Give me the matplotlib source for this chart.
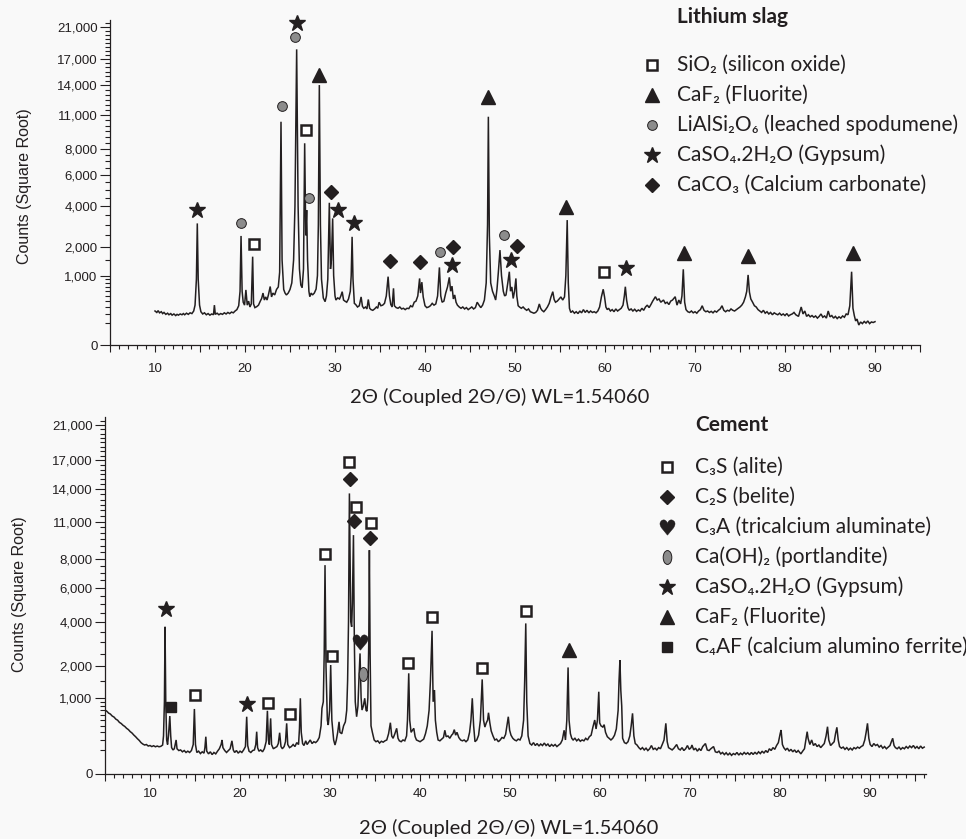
import numpy as np
import matplotlib
matplotlib.use("Agg")
import matplotlib.pyplot as plt
from matplotlib.lines import Line2D
from matplotlib.path import Path
from matplotlib.ticker import FixedLocator, MultipleLocator, FuncFormatter
from matplotlib.transforms import Affine2D

W, H = 966, 839
INK = '#231f20'
BG = '#f9f9f9'
TXT_FONT = ['Lato', 'DejaVu Sans']
AX_FONT = ['Liberation Sans', 'DejaVu Sans']

# ----------- data (2theta, counts) -----------
slag_trace = [
    (10.0, 240), (10.2, 220), (10.35, 245), (10.5, 215), (10.7, 230), (10.85, 205), (11.0, 220),
    (11.2, 195), (11.4, 210), (11.55, 190), (11.75, 205), (11.9, 185), (12.1, 200), (12.3, 180),
    (12.45, 195), (12.6, 185), (12.8, 200), (13.0, 190), (13.15, 205), (13.3, 190), (13.5, 210),
    (13.7, 195), (13.9, 215), (14.1, 205), (14.3, 240), (14.45, 330), (14.6, 900), (14.7, 3070),
    (14.8, 900), (14.95, 330), (15.1, 230), (15.3, 200), (15.5, 215), (15.7, 190), (15.9, 205),
    (16.1, 185), (16.3, 200), (16.5, 190), (16.6, 330), (16.7, 195), (16.9, 210), (17.1, 190),
    (17.3, 205), (17.5, 195), (17.7, 215), (17.9, 200), (18.1, 220), (18.3, 205), (18.5, 225),
    (18.7, 215), (18.9, 240), (19.1, 260), (19.3, 320), (19.45, 600), (19.56, 2470), (19.68, 600),
    (19.8, 380), (19.95, 330), (20.1, 630), (20.25, 330), (20.4, 400), (20.55, 300), (20.7, 350),
    (20.85, 1620), (20.95, 350), (21.1, 290), (21.3, 305), (21.5, 330), (21.7, 400), (21.85, 450),
    (22.0, 560), (22.15, 420), (22.3, 480), (22.45, 420), (22.6, 520), (22.8, 710), (22.95, 480),
    (23.1, 560), (23.3, 520), (23.5, 640), (23.7, 700), (23.85, 1100), (24.0, 10350), (24.12, 1500),
    (24.3, 640), (24.45, 560), (24.6, 520), (24.8, 560), (25.0, 640), (25.2, 800), (25.4, 1500),
    (25.55, 4000), (25.74, 18150), (25.9, 4000), (26.05, 1200), (26.2, 750), (26.35, 680),
    (26.5, 1200), (26.63, 8450), (26.75, 2500), (26.85, 3780), (26.95, 1500), (27.1, 600),
    (27.2, 484), (27.35, 560), (27.5, 520), (27.7, 560), (27.9, 650), (28.05, 1000), (28.15, 3000),
    (28.26, 14030), (28.38, 3000), (28.5, 900), (28.7, 460), (28.9, 390), (29.05, 500), (29.2, 900),
    (29.37, 4200), (29.5, 1200), (29.6, 1500), (29.74, 3330), (29.85, 1000), (30.0, 500),
    (30.1, 420), (30.3, 460), (30.5, 440), (30.65, 500), (30.8, 590), (30.95, 420), (31.1, 400),
    (31.3, 380), (31.5, 440), (31.7, 600), (31.8, 1000), (31.9, 2430), (32.0, 900), (32.15, 360),
    (32.3, 340), (32.5, 300), (32.7, 320), (32.9, 480), (33.05, 310), (33.2, 280), (33.4, 300),
    (33.55, 270), (33.7, 430), (33.85, 280), (34.0, 260), (34.2, 250), (34.4, 270), (34.6, 300),
    (34.75, 280), (34.9, 380), (35.1, 320), (35.3, 330), (35.5, 360), (35.7, 500), (35.9, 970),
    (36.05, 500), (36.2, 340), (36.35, 300), (36.5, 667), (36.6, 320), (36.8, 290), (37.0, 280),
    (37.2, 300), (37.4, 270), (37.6, 280), (37.8, 260), (38.0, 280), (38.2, 275), (38.4, 320),
    (38.6, 300), (38.8, 380), (39.0, 400), (39.2, 500), (39.4, 920), (39.5, 560), (39.65, 820),
    (39.8, 480), (40.0, 320), (40.2, 290), (40.4, 300), (40.6, 320), (40.8, 360), (41.0, 330),
    (41.2, 350), (41.4, 500), (41.6, 1250), (41.75, 500), (41.9, 380), (42.1, 400), (42.3, 560),
    (42.5, 700), (42.7, 950), (42.85, 600), (43.0, 720), (43.15, 440), (43.3, 520), (43.45, 380),
    (43.6, 330), (43.8, 300), (44.0, 280), (44.2, 300), (44.4, 270), (44.6, 290), (44.8, 260),
    (45.0, 280), (45.2, 300), (45.4, 270), (45.6, 290), (45.8, 380), (46.0, 330), (46.2, 290),
    (46.4, 330), (46.6, 420), (46.8, 800), (46.95, 3000), (47.04, 10820), (47.15, 2500),
    (47.3, 800), (47.5, 600), (47.7, 500), (47.85, 420), (48.0, 650), (48.15, 1100), (48.33, 1870),
    (48.5, 1000), (48.7, 600), (48.85, 500), (49.0, 520), (49.2, 800), (49.37, 1115), (49.5, 600),
    (49.65, 700), (49.8, 450), (49.95, 600), (50.1, 920), (50.2, 500), (50.35, 320), (50.5, 300),
    (50.7, 280), (50.9, 300), (51.1, 270), (51.3, 250), (51.5, 270), (51.7, 230), (51.9, 220),
    (52.1, 210), (52.3, 220), (52.5, 250), (52.7, 350), (52.85, 280), (53.0, 250), (53.2, 230),
    (53.4, 260), (53.6, 300), (53.8, 360), (54.0, 480), (54.2, 590), (54.35, 430), (54.5, 380),
    (54.7, 400), (54.9, 440), (55.1, 480), (55.3, 420), (55.5, 480), (55.65, 1000), (55.8, 3240),
    (55.92, 800), (56.05, 280), (56.2, 220), (56.4, 240), (56.6, 210), (56.8, 230), (57.0, 205),
    (57.2, 240), (57.4, 215), (57.6, 260), (57.8, 220), (58.0, 250), (58.2, 215), (58.4, 240),
    (58.6, 220), (58.8, 230), (59.0, 215), (59.2, 240), (59.4, 300), (59.6, 480), (59.8, 645),
    (59.95, 480), (60.1, 300), (60.25, 260), (60.4, 280), (60.6, 240), (60.8, 260), (61.0, 230),
    (61.2, 270), (61.4, 240), (61.6, 260), (61.8, 280), (62.0, 330), (62.15, 500), (62.26, 705),
    (62.4, 420), (62.55, 290), (62.7, 250), (62.9, 270), (63.1, 240), (63.3, 265), (63.5, 235),
    (63.7, 255), (63.9, 240), (64.1, 280), (64.3, 250), (64.5, 300), (64.7, 330), (64.9, 290),
    (65.1, 340), (65.3, 400), (65.6, 484), (65.8, 420), (66.0, 440), (66.2, 380), (66.5, 420),
    (66.7, 360), (66.9, 380), (67.1, 340), (67.3, 400), (67.5, 420), (67.8, 484), (68.0, 330),
    (68.2, 420), (68.4, 350), (68.55, 500), (68.7, 1190), (68.85, 380), (69.0, 260), (69.2, 230),
    (69.4, 220), (69.6, 240), (69.8, 215), (70.0, 230), (70.2, 210), (70.4, 240), (70.6, 260),
    (70.8, 320), (71.0, 250), (71.2, 230), (71.4, 240), (71.6, 220), (71.8, 235), (72.0, 215),
    (72.2, 240), (72.4, 225), (72.6, 250), (72.8, 270), (73.0, 320), (73.2, 250), (73.4, 230),
    (73.6, 250), (73.8, 240), (74.0, 270), (74.2, 250), (74.4, 240), (74.6, 260), (74.8, 280),
    (75.0, 300), (75.2, 330), (75.4, 380), (75.6, 480), (75.75, 600), (75.9, 1020), (76.05, 580),
    (76.2, 440), (76.4, 380), (76.6, 320), (76.8, 300), (77.0, 260), (77.2, 240), (77.4, 220),
    (77.6, 250), (77.8, 210), (78.0, 230), (78.2, 200), (78.4, 220), (78.6, 190), (78.8, 215),
    (79.0, 200), (79.2, 190), (79.4, 210), (79.6, 185), (79.8, 200), (80.0, 180), (80.2, 205),
    (80.4, 175), (80.6, 190), (80.8, 200), (81.0, 220), (81.2, 190), (81.5, 170), (81.8, 300),
    (82.0, 200), (82.2, 240), (82.4, 170), (82.6, 190), (82.8, 165), (83.0, 180), (83.2, 160),
    (83.4, 175), (83.6, 150), (83.8, 170), (84.0, 200), (84.2, 160), (84.4, 175), (84.6, 150),
    (84.8, 240), (85.0, 165), (85.2, 180), (85.4, 150), (85.6, 170), (85.8, 145), (86.0, 165),
    (86.2, 150), (86.4, 175), (86.6, 160), (86.8, 200), (87.0, 190), (87.2, 320), (87.4, 1115),
    (87.55, 280), (87.7, 180), (87.85, 120), (88.0, 140), (88.2, 83), (88.4, 110), (88.6, 95),
    (88.8, 115), (89.0, 100), (89.2, 120), (89.4, 95), (89.6, 110), (89.8, 105), (90.0, 113),
]

cement_trace = [
    (5.0, 706), (5.2, 680), (5.4, 640), (5.6, 620), (5.8, 580), (6.0, 560), (6.2, 520), (6.4, 500),
    (6.6, 460), (6.8, 440), (7.0, 410), (7.2, 390), (7.4, 360), (7.6, 340), (7.8, 310), (8.0, 290),
    (8.2, 262), (8.4, 240), (8.6, 215), (8.8, 195), (9.0, 170), (9.2, 155), (9.4, 145), (9.6, 150),
    (9.8, 135), (10.0, 140), (10.2, 130), (10.4, 138), (10.6, 128), (10.8, 135), (11.0, 128),
    (11.2, 132), (11.4, 145), (11.5, 250), (11.6, 900), (11.67, 3740), (11.75, 900), (11.85, 200),
    (11.95, 150), (12.05, 250), (12.2, 580), (12.3, 250), (12.4, 120), (12.55, 100), (12.7, 110),
    (12.9, 200), (13.0, 110), (13.2, 95), (13.4, 100), (13.6, 85), (13.8, 95), (14.0, 80),
    (14.2, 90), (14.4, 80), (14.6, 95), (14.8, 150), (14.93, 730), (15.05, 150), (15.2, 80),
    (15.4, 90), (15.6, 72), (15.8, 85), (16.0, 75), (16.1, 120), (16.2, 240), (16.3, 90), (16.5, 70),
    (16.7, 85), (16.9, 65), (17.1, 80), (17.3, 70), (17.5, 90), (17.7, 110), (17.9, 150), (18.0, 200),
    (18.1, 120), (18.3, 95), (18.5, 80), (18.7, 95), (18.9, 110), (19.1, 190), (19.25, 100),
    (19.4, 80), (19.6, 95), (19.8, 75), (20.0, 90), (20.2, 80), (20.4, 100), (20.6, 130),
    (20.74, 566), (20.85, 140), (21.0, 90), (21.2, 80), (21.4, 95), (21.6, 100), (21.75, 150),
    (21.85, 309), (21.95, 120), (22.1, 90), (22.3, 100), (22.5, 85), (22.7, 110), (22.9, 180),
    (23.04, 690), (23.15, 200), (23.25, 150), (23.4, 534), (23.5, 150), (23.7, 110), (23.9, 120),
    (24.1, 130), (24.25, 160), (24.4, 294), (24.55, 130), (24.7, 110), (24.9, 130), (25.05, 180),
    (25.18, 443), (25.3, 150), (25.5, 120), (25.7, 130), (25.9, 150), (26.1, 130), (26.3, 170),
    (26.5, 150), (26.6, 350), (26.7, 990), (26.8, 300), (26.95, 160), (27.1, 140), (27.3, 190),
    (27.45, 150), (27.6, 170), (27.8, 200), (28.0, 160), (28.2, 180), (28.4, 170), (28.6, 190),
    (28.8, 230), (29.0, 400), (29.1, 745), (29.25, 900), (29.35, 2500), (29.44, 7530), (29.55, 2000),
    (29.7, 500), (29.8, 414), (29.95, 700), (30.07, 2050), (30.2, 500), (30.4, 200), (30.55, 145),
    (30.7, 200), (30.85, 300), (31.0, 470), (31.1, 300), (31.3, 280), (31.5, 400), (31.7, 470),
    (31.85, 700), (31.95, 1500), (32.05, 4000), (32.15, 13590), (32.3, 4000), (32.4, 3740),
    (32.48, 5000), (32.6, 9850), (32.7, 3000), (32.8, 900), (32.95, 566), (33.1, 800), (33.2, 1500),
    (33.33, 2510), (33.45, 1000), (33.55, 706), (33.7, 800), (33.85, 990), (34.0, 700), (34.1, 680),
    (34.2, 1000), (34.3, 3000), (34.37, 8650), (34.45, 2500), (34.55, 400), (34.7, 300), (34.9, 200),
    (35.1, 180), (35.3, 190), (35.5, 165), (35.7, 185), (35.9, 175), (36.1, 190), (36.3, 200),
    (36.5, 280), (36.7, 454), (36.85, 250), (37.0, 220), (37.2, 280), (37.4, 360), (37.55, 220),
    (37.7, 190), (37.9, 180), (38.1, 200), (38.3, 190), (38.5, 250), (38.6, 500), (38.74, 1750),
    (38.85, 500), (39.0, 300), (39.15, 330), (39.3, 360), (39.45, 240), (39.6, 200), (39.8, 190),
    (40.0, 180), (40.2, 195), (40.4, 210), (40.6, 280), (40.8, 400), (41.0, 700), (41.15, 1500),
    (41.33, 3540), (41.45, 900), (41.6, 1217), (41.7, 500), (41.85, 300), (42.0, 200), (42.2, 190),
    (42.4, 210), (42.6, 230), (42.75, 330), (42.9, 240), (43.1, 250), (43.3, 220), (43.5, 260),
    (43.65, 280), (43.8, 340), (43.95, 260), (44.1, 300), (44.3, 230), (44.5, 200), (44.7, 190),
    (44.9, 200), (45.1, 180), (45.3, 200), (45.5, 300), (45.65, 500), (45.8, 990), (45.95, 400),
    (46.1, 180), (46.3, 200), (46.5, 260), (46.7, 500), (46.9, 1545), (47.05, 500), (47.2, 380),
    (47.35, 450), (47.5, 500), (47.6, 648), (47.75, 450), (47.9, 320), (48.1, 250), (48.3, 200),
    (48.5, 210), (48.7, 180), (48.9, 200), (49.1, 230), (49.3, 220), (49.5, 270), (49.65, 400),
    (49.8, 566), (49.95, 330), (50.1, 260), (50.3, 220), (50.5, 200), (50.7, 190), (50.9, 210),
    (51.1, 200), (51.3, 250), (51.5, 500), (51.62, 1500), (51.74, 3915), (51.85, 900), (52.0, 250),
    (52.2, 160), (52.4, 145), (52.6, 170), (52.8, 140), (53.0, 160), (53.2, 135), (53.4, 155),
    (53.6, 140), (53.8, 165), (54.0, 140), (54.2, 155), (54.4, 130), (54.6, 150), (54.8, 135),
    (55.0, 150), (55.2, 130), (55.4, 145), (55.6, 160), (55.8, 200), (56.0, 330), (56.15, 200),
    (56.3, 500), (56.44, 1960), (56.55, 500), (56.7, 280), (56.85, 220), (57.0, 200), (57.2, 220),
    (57.4, 190), (57.6, 210), (57.8, 185), (58.0, 200), (58.2, 190), (58.4, 220), (58.6, 200),
    (58.8, 240), (59.0, 260), (59.2, 380), (59.4, 503), (59.55, 350), (59.7, 500), (59.85, 1168),
    (59.95, 450), (60.1, 400), (60.3, 380), (60.45, 420), (60.6, 300), (60.8, 240), (61.0, 220),
    (61.2, 200), (61.4, 220), (61.6, 260), (61.8, 350), (62.0, 700), (62.1, 1500), (62.2, 2240),
    (62.3, 1200), (62.4, 800), (62.5, 220), (62.7, 170), (62.9, 160), (63.1, 180), (63.3, 250),
    (63.45, 400), (63.6, 635), (63.75, 250), (63.9, 160), (64.1, 145), (64.3, 120), (64.5, 105),
    (64.7, 120), (64.9, 100), (65.1, 115), (65.3, 95), (65.5, 110), (65.7, 140), (65.9, 105),
    (66.1, 115), (66.3, 100), (66.5, 120), (66.7, 110), (66.9, 150), (67.1, 200), (67.3, 443),
    (67.45, 180), (67.6, 120), (67.8, 110), (68.0, 100), (68.2, 115), (68.5, 150), (68.7, 110),
    (68.9, 100), (69.1, 120), (69.3, 95), (69.5, 110), (69.7, 140), (69.9, 105), (70.1, 120),
    (70.2, 145), (70.4, 100), (70.6, 115), (70.8, 90), (71.0, 110), (71.2, 95), (71.4, 130),
    (71.7, 160), (71.9, 100), (72.1, 95), (72.3, 110), (72.6, 130), (72.8, 85), (73.0, 80),
    (73.2, 90), (73.4, 70), (73.6, 80), (73.8, 65), (74.0, 78), (74.2, 62), (74.4, 75), (74.6, 60),
    (74.8, 72), (75.0, 65), (75.2, 80), (75.4, 62), (75.6, 75), (75.8, 65), (76.0, 80), (76.2, 68),
    (76.4, 78), (76.6, 64), (76.8, 80), (77.0, 66), (77.2, 82), (77.4, 68), (77.6, 85), (77.8, 72),
    (78.0, 90), (78.2, 75), (78.4, 95), (78.6, 80), (78.8, 110), (79.0, 95), (79.2, 120),
    (79.4, 105), (79.6, 140), (79.8, 170), (80.0, 280), (80.1, 334), (80.25, 150), (80.4, 120),
    (80.6, 100), (80.8, 115), (81.0, 90), (81.2, 105), (81.4, 85), (81.6, 100), (81.8, 80),
    (82.0, 95), (82.3, 70), (82.5, 90), (82.7, 110), (82.85, 200), (83.0, 309), (83.1, 220),
    (83.3, 150), (83.5, 200), (83.7, 140), (83.9, 160), (84.1, 130), (84.3, 145), (84.5, 120),
    (84.7, 140), (84.9, 160), (85.1, 250), (85.26, 386), (85.4, 200), (85.6, 140), (85.8, 160),
    (86.0, 180), (86.15, 280), (86.3, 376), (86.45, 200), (86.6, 130), (86.8, 115), (87.0, 125),
    (87.2, 105), (87.4, 120), (87.6, 100), (87.8, 115), (88.0, 100), (88.2, 120), (88.4, 110),
    (88.6, 125), (88.8, 115), (89.0, 130), (89.2, 140), (89.4, 200), (89.55, 300), (89.7, 443),
    (89.85, 220), (90.0, 150), (90.2, 130), (90.4, 160), (90.6, 140), (90.8, 150), (91.0, 125),
    (91.2, 140), (91.4, 115), (91.6, 130), (91.8, 110), (92.0, 125), (92.2, 140), (92.35, 180),
    (92.5, 220), (92.65, 140), (92.8, 120), (93.0, 110), (93.2, 125), (93.4, 105), (93.6, 120),
    (93.8, 110), (94.0, 130), (94.2, 115), (94.4, 135), (94.6, 120), (94.8, 140), (95.0, 115),
    (95.2, 130), (95.4, 110), (95.6, 135), (95.8, 115), (96.0, 125),
]

# phase symbols above the peaks (2theta, counts)
slag_sio2 = [(21.0, 2105), (26.78, 9594), (59.9, 1115)]
slag_caf2 = [(28.2, 15130), (47.0, 12795), (55.7, 3970), (68.8, 1758), (75.9, 1650), (87.5, 1758)]
slag_spod = [(19.56, 3073), (24.07, 11855), (25.6, 19730), (27.07, 4465), (41.7, 1806), (48.8, 2500)]
slag_gyps = [(14.7, 3783), (25.74, 21560), (30.3, 3783), (32.1, 3090), (42.97, 1328), (49.6, 1500), (62.3, 1220)]
slag_caco3 = [(29.6, 4877), (36.1, 1474), (39.4, 1435), (43.1, 1984), (50.2, 2044)]

cem_c3s = [(15.0, 1076), (23.15, 877), (25.56, 621), (29.44, 8347), (30.2, 2413), (32.15, 16820),
           (32.85, 12320), (34.5, 10840), (38.7, 2136), (41.3, 4236), (46.9, 1926), (51.74, 4600)]
cem_c2s = [(32.2, 14980), (32.7, 11070), (34.44, 9580)]
cem_c3a = [(33.33, 3018)]
cem_portl = [(33.7, 1725)]
cem_gyps = [(11.74, 4678), (20.8, 845)]
cem_caf2 = [(56.5, 2652)]
cem_c4af = [(12.3, 767)]

slag_legend = ["SiO₂ (silicon oxide)", "CaF₂ (Fluorite)", "LiAlSi₂O₆ (leached spodumene)",
               "CaSO₄.2H₂O (Gypsum)", "CaCO₃ (Calcium carbonate)"]
cem_legend = ["C₃S (alite)", "C₂S (belite)", "C₃A (tricalcium aluminate)", "Ca(OH)₂ (portlandite)",
              "CaSO₄.2H₂O (Gypsum)", "CaF₂ (Fluorite)", "C₄AF (calcium alumino ferrite)"]

y_major = [0, 1000, 2000, 4000, 6000, 8000, 11000, 14000, 17000, 21000]
y_minor = list(range(100, 1000, 100)) + [v for v in range(1500, 22000, 500) if v not in y_major]

# ----------- symbol styles -----------
ellipse = Path.unit_circle().transformed(Affine2D().scale(0.62, 1.0))
STYLE = {
    'square': dict(marker='s', markersize=7, markerfacecolor='white', markeredgecolor=INK, markeredgewidth=1.8),
    'fsquare': dict(marker='s', markersize=7.5, markerfacecolor=INK, markeredgecolor=INK),
    'triangle': dict(marker='^', markersize=10, markerfacecolor=INK, markeredgecolor=INK),
    'circle': dict(marker='o', markersize=7, markerfacecolor='#8c8c8c', markeredgecolor=INK, markeredgewidth=0.7),
    'ellipse': dict(marker=ellipse, markersize=10, markerfacecolor='#8c8c8c', markeredgecolor=INK, markeredgewidth=0.7),
    'star': dict(marker='*', markersize=12, markerfacecolor=INK, markeredgecolor=INK),
    'diamond': dict(marker='D', markersize=7, markerfacecolor=INK, markeredgecolor=INK),
    'heart': dict(marker='$\u2665$', markersize=11, markerfacecolor=INK, markeredgecolor=INK, markeredgewidth=0.3),
}


def fx(px):
    return px / W


def fy(py):
    return 1 - py / H


def setup_axis(ax, xmax, label_pad):
    ax.set_facecolor(BG)
    ax.set_yscale('function', functions=(lambda v: np.sqrt(np.clip(v, 0, None)), lambda v: v ** 2))
    ax.set_ylim(0, 22000)
    ax.set_xlim(5, xmax)
    ax.yaxis.set_major_locator(FixedLocator(y_major))
    ax.yaxis.set_minor_locator(FixedLocator(y_minor))
    ax.yaxis.set_major_formatter(FuncFormatter(lambda v, p: f"{int(round(v)):,}"))
    ax.xaxis.set_major_locator(MultipleLocator(5))
    ax.xaxis.set_minor_locator(MultipleLocator(1))
    ax.xaxis.set_major_formatter(FuncFormatter(lambda v, p: f"{int(v)}" if int(round(v)) % 10 == 0 and v > 5 else ""))
    for side in ('top', 'right'):
        ax.spines[side].set_visible(False)
    for side in ('left', 'bottom'):
        ax.spines[side].set_color(INK)
        ax.spines[side].set_linewidth(0.9)
    ax.tick_params(axis='y', which='major', length=7, width=0.8, color=INK, pad=2, labelsize=9.5, labelcolor=INK)
    ax.tick_params(axis='y', which='minor', length=3.5, width=0.8, color=INK)
    ax.tick_params(axis='x', which='major', length=5, width=0.8, color=INK, pad=label_pad, labelsize=9.5, labelcolor=INK)
    ax.tick_params(axis='x', which='minor', length=3, width=0.8, color=INK)
    for lab in ax.get_xticklabels() + ax.get_yticklabels():
        lab.set_family(AX_FONT)


def draw_trace(ax, trace):
    x, y = zip(*trace)
    ax.plot(x, y, color=INK, linewidth=1.1, solid_joinstyle='miter')


def draw_symbols(ax, pts, key):
    x, y = zip(*pts)
    ax.plot(x, y, linestyle='none', clip_on=False, zorder=5, **STYLE[key])


def draw_key(fig, title, labels, keys, x_mark, x_text, y_title, y0, step):
    fig.text(fx(x_text), fy(y_title), title, family=TXT_FONT, fontsize=15, fontweight='bold',
             color=INK, va='center', ha='left')
    for i, (lab, key) in enumerate(zip(labels, keys)):
        yy = y0 + i * step
        fig.add_artist(Line2D([fx(x_mark)], [fy(yy)], transform=fig.transFigure, linestyle='none', **STYLE[key]))
        fig.text(fx(x_text), fy(yy), lab, family=TXT_FONT, fontsize=15, color=INK, va='center', ha='left')


fig = plt.figure(figsize=(W / 100, H / 100), dpi=100, facecolor=BG)

# ----------- top: lithium slag -----------
ax1 = fig.add_axes([fx(110), fy(345), 810 / W, (345 - 19.5) / H])
setup_axis(ax1, 95, 8)
draw_trace(ax1, slag_trace)
draw_symbols(ax1, slag_sio2, 'square')
draw_symbols(ax1, slag_caf2, 'triangle')
draw_symbols(ax1, slag_spod, 'circle')
draw_symbols(ax1, slag_gyps, 'star')
draw_symbols(ax1, slag_caco3, 'diamond')

# ----------- bottom: cement -----------
ax2 = fig.add_axes([fx(105), fy(774), 821 / W, (774 - 417) / H])
setup_axis(ax2, 96.2, 5)
draw_trace(ax2, cement_trace)
draw_symbols(ax2, cem_c3s, 'square')
draw_symbols(ax2, cem_c2s, 'diamond')
draw_symbols(ax2, cem_c3a, 'heart')
draw_symbols(ax2, cem_portl, 'ellipse')
draw_symbols(ax2, cem_gyps, 'star')
draw_symbols(ax2, cem_caf2, 'triangle')
draw_symbols(ax2, cem_c4af, 'fsquare')

# ----------- keys and axis titles -----------
draw_key(fig, "Lithium slag", slag_legend, ['square', 'triangle', 'circle', 'star', 'diamond'],
         652, 677, 17, 65, 30)
draw_key(fig, "Cement", cem_legend,
         ['square', 'diamond', 'heart', 'ellipse', 'star', 'triangle', 'fsquare'],
         667, 695, 425, 467, 30)

xlab = "2Θ (Coupled 2Θ/Θ) WL=1.54060"
fig.text(fx(500), fy(397), xlab, family=TXT_FONT, fontsize=14.5, color=INK, ha='center', va='center')
fig.text(fx(509), fy(828), xlab, family=TXT_FONT, fontsize=14.5, color=INK, ha='center', va='center')
fig.text(fx(25), fy(186), "Counts (Square Root)", family=AX_FONT, fontsize=11.5, color=INK,
         rotation=90, ha='center', va='center')
fig.text(fx(20), fy(594), "Counts (Square Root)", family=AX_FONT, fontsize=11.5, color=INK,
         rotation=90, ha='center', va='center')

fig.savefig("out.png", dpi=100, facecolor=BG)
